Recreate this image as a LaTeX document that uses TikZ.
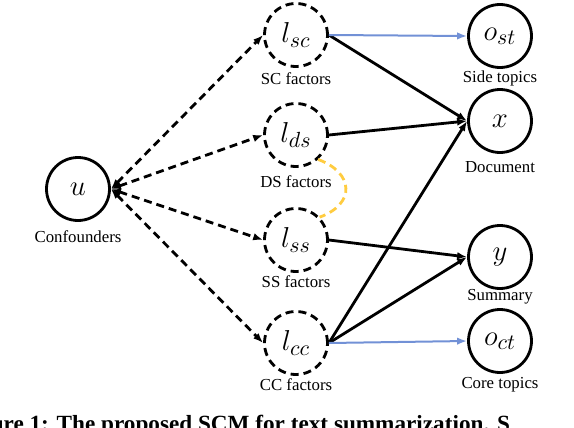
\documentclass[tikz,border=0pt]{standalone}
\usepackage{fontspec}
\setmainfont{Liberation Serif}
\usetikzlibrary{arrows.meta}
\definecolor{topicblue}{RGB}{114,145,214}
\definecolor{corrgold}{RGB}{255,204,64}
\tikzset{
  var/.style={circle, draw, line width=1.4pt, minimum size=31.5pt, inner sep=0pt, font=\fontsize{15.5}{17}\selectfont},
  latent/.style={var, dash pattern=on 4pt off 2.5pt},
  caption/.style={font=\fontsize{8.4}{10}\selectfont},
  conf/.style={{Latex[length=5pt]}-{Latex[length=5pt]}, line width=1.4pt, dash pattern=on 4pt off 2.5pt},
  cause/.style={-{Latex[length=5pt]}, line width=1.4pt},
  topic/.style={-{Latex[length=5pt]}, line width=1pt, topicblue},
}
\begin{document}
\begin{tikzpicture}[x=0.5pt,y=-0.5pt]
			\useasboundingbox (0,0) rectangle (574,428);
			\node[var] (u) at (78,189) {$u$};
			\node[latent] (lsc) at (296,35) {$l_{sc}$};
			\node[latent] (lds) at (296,135) {$l_{ds}$};
			\node[latent] (lss) at (296,240) {$l_{ss}$};
			\node[latent] (lcc) at (296,343) {$l_{cc}$};
			\node[var] (ost) at (500,36) {$o_{st}$};
			\node[var] (x) at (500,121) {$x$};
			\node[var] (y) at (500,257) {$y$};
			\node[var] (oct) at (500,341) {$o_{ct}$};
			\node[caption] (tu) at (78,237) {Confounders};
			\node[caption] (tsc) at (296,79) {SC factors};
			\node[caption] (tds) at (296,182) {DS factors};
			\node[caption] (tss) at (296,282) {SS factors};
			\node[caption] (tcc) at (296,385) {CC factors};
			\node[caption] (tst) at (500,78) {Side topics};
			\node[caption] (tx) at (500,167) {Document};
			\node[caption] (ty) at (500,297) {Summary};
			\node[caption] (tct) at (500,385) {Core topics};
			\node[anchor=base east, font=\fontsize{11.6}{13}\selectfont\bfseries] (fig) at (517,431) {Figure 1: The proposed SCM for text summarization. S};
			\draw [conf] (u.east) to (lsc.west);
			\draw [conf] (u.east) to (lds.west);
			\draw [conf] (u.east) to (lss.west);
			\draw [conf] (u.east) to (lcc.west);
			\draw [cause] (lsc.east) to (x.west);
			\draw [cause] (lds.east) to (x.west);
			\draw [cause] (lcc.east) to (x.west);
			\draw [cause] (lss.east) to (y.west);
			\draw [cause] (lcc.east) to (y.west);
			\draw [topic] (lsc.east) to (ost.west);
			\draw [topic] (lcc.east) to (oct.west);
			\draw [corrgold, line width=1.4pt, dash pattern=on 4pt off 2.5pt] (lds.-48) to[out=-20, in=20, looseness=1.7] (lss.44);
		\end{tikzpicture}
\end{document}
